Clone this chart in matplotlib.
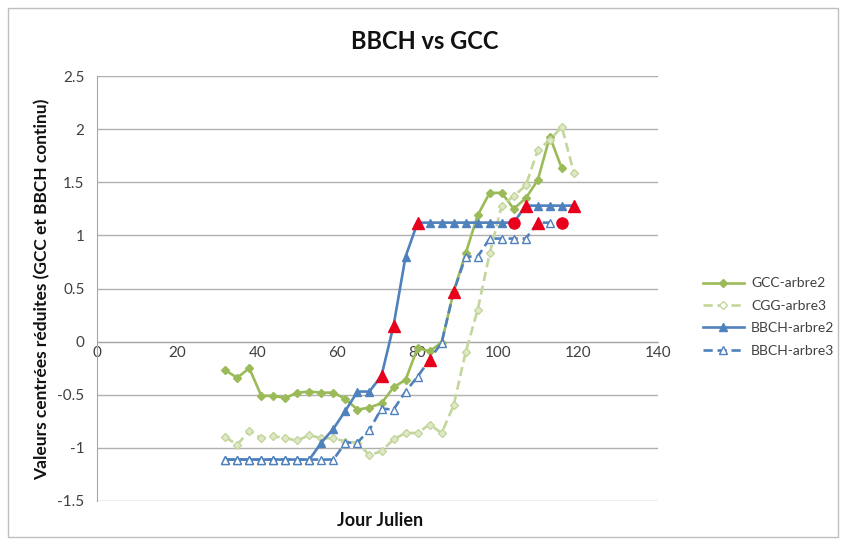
import matplotlib.pyplot as plt
from matplotlib.patches import Rectangle
from matplotlib.lines import Line2D

plt.rcParams['font.family'] = ['Lato', 'DejaVu Sans']
plt.rcParams['axes.unicode_minus'] = False

# Jours juliens (un releve tous les 3 jours)
jours = [32, 35, 38, 41, 44, 47, 50, 53, 56, 59, 62, 65, 68, 71, 74, 77, 80,
         83, 86, 89, 92, 95, 98, 101, 104, 107, 110, 113, 116, 119]

gcc_arbre2 = [-0.27, -0.34, -0.25, -0.51, -0.51, -0.53, -0.48, -0.47, -0.48, -0.48,
              -0.54, -0.64, -0.62, -0.58, -0.43, -0.36, -0.06, -0.09, -0.01, 0.47,
              0.83, 1.19, 1.40, 1.40, 1.25, 1.35, 1.52, 1.93, 1.63]
cgg_arbre3 = [-0.90, -0.97, -0.84, -0.91, -0.89, -0.91, -0.93, -0.88, -0.91, -0.91,
              -0.94, -0.95, -1.07, -1.03, -0.92, -0.86, -0.86, -0.78, -0.86, -0.60,
              -0.10, 0.30, 0.83, 1.28, 1.37, 1.47, 1.80, 1.90, 2.02, 1.59]
bbch_arbre2 = [-1.11, -1.11, -1.11, -1.11, -1.11, -1.11, -1.11, -1.11, -0.95, -0.82,
               -0.65, -0.47, -0.47, -0.32, 0.15, 0.80, 1.12, 1.12, 1.12, 1.12,
               1.12, 1.12, 1.12, 1.12, 1.12, 1.28, 1.28, 1.28, 1.28, 1.28]
bbch_arbre3 = [-1.11, -1.11, -1.11, -1.11, -1.11, -1.11, -1.11, -1.11, -1.11, -1.11,
               -0.95, -0.95, -0.83, -0.63, -0.64, -0.47, -0.33, -0.17, -0.01, 0.47,
               0.80, 0.80, 0.97, 0.97, 0.97, 0.97, 1.12, 1.12, 1.12]

# stades BBCH observes (points rouges)
obs2_tri = [71, 74, 80, 107, 119]
obs2_rond = [104]
obs3_tri = [83, 89, 110]
obs3_rond = [116]

vert = '#9bbb59'
vert_clair = '#c3d69b'
bleu = '#4f81bd'
rouge = '#e8001c'

fig = plt.figure(figsize=(8.41, 5.40), dpi=100)
ax = fig.add_axes([97/841, 1-501/540, (658-97)/841, (501-76)/540])

ax.plot(jours[:len(gcc_arbre2)], gcc_arbre2, '-', color=vert, lw=1.9,
        marker='D', ms=4.5, mfc=vert, mec=vert, label='GCC-arbre2', zorder=3)
ax.plot(jours, cgg_arbre3, '--', color=vert_clair, lw=1.9, dashes=(3.5, 1.8),
        marker='D', ms=4.5, mfc='#dfe9c8', mec=vert_clair, label='CGG-arbre3', zorder=4)
ax.plot(jours, bbch_arbre2, '-', color=bleu, lw=1.9,
        marker='^', ms=5.5, mfc=bleu, mec=bleu, label='BBCH-arbre2', zorder=5)
ax.plot(jours[:len(bbch_arbre3)], bbch_arbre3, '--', color=bleu, lw=1.9, dashes=(3.5, 1.8),
        marker='^', ms=5.5, mfc='white', mec=bleu, label='BBCH-arbre3', zorder=6)

ax.plot(obs2_tri, [bbch_arbre2[jours.index(d)] for d in obs2_tri], '^', color=rouge, ms=9, ls='none', zorder=7)
ax.plot(obs2_rond, [bbch_arbre2[jours.index(d)] for d in obs2_rond], 'o', color=rouge, ms=8, ls='none', zorder=7)
ax.plot(obs3_tri, [bbch_arbre3[jours.index(d)] for d in obs3_tri], '^', color=rouge, ms=9, ls='none', zorder=7)
ax.plot(obs3_rond, [bbch_arbre3[jours.index(d)] for d in obs3_rond], 'o', color=rouge, ms=8, ls='none', zorder=7)

ax.set_xlim(0, 140)
ax.set_ylim(-1.5, 2.5)
ax.set_xticks(range(0, 141, 20))
ax.set_yticks([-1.5, -1, -0.5, 0, 0.5, 1, 1.5, 2, 2.5])
ax.set_yticklabels(['%g' % v for v in ax.get_yticks()])
ax.yaxis.grid(True, color='#b0b0b0', lw=1.0)
ax.set_axisbelow(True)
for s in ['top', 'right']:
    ax.spines[s].set_visible(False)
ax.spines['bottom'].set_position(('data', 0))
ax.spines['bottom'].set_color('#a6a6a6')
ax.spines['left'].set_color('#a6a6a6')
ax.tick_params(axis='both', length=0, labelsize=11, colors='#404040')
ax.tick_params(axis='x', pad=3)
ax.tick_params(axis='y', pad=9)

fig.text(425/841, 1-42/540, 'BBCH vs GCC', ha='center', va='center',
         fontsize=17, fontweight='bold', color='#111111')
fig.text(380/841, 1-520/540, 'Jour Julien', ha='center', va='center',
         fontsize=13, fontweight='bold', color='#111111')
fig.text(42/841, 1-289/540, 'Valeurs centrées réduites (GCC et BBCH continu)', ha='center',
         va='center', rotation=90, fontsize=12.5, fontweight='bold', color='#111111')

handles = [
    Line2D([], [], color=vert, lw=1.9, marker='D', ms=4.5),
    Line2D([], [], color=vert_clair, lw=1.9, dashes=(3.5, 1.8), marker='D', ms=4.5, mfc='white'),
    Line2D([], [], color=bleu, lw=1.9, marker='^', ms=5.5),
    Line2D([], [], color=bleu, lw=1.9, dashes=(3.5, 1.8), marker='^', ms=5.5, mfc='white'),
]
fig.legend(handles, ['GCC-arbre2', 'CGG-arbre3', 'BBCH-arbre2', 'BBCH-arbre3'],
           loc='center left', bbox_to_anchor=(690/841, 1-317/540), frameon=False,
           fontsize=10, handlelength=3.0, handletextpad=0.5, labelspacing=0.75,
           labelcolor='#404040')

fig.add_artist(Rectangle((8/841, 3/540), 830/841, 529/540, transform=fig.transFigure,
                         fill=False, ec='#bfbfbf', lw=1.0))

fig.savefig('out.png', dpi=100)
